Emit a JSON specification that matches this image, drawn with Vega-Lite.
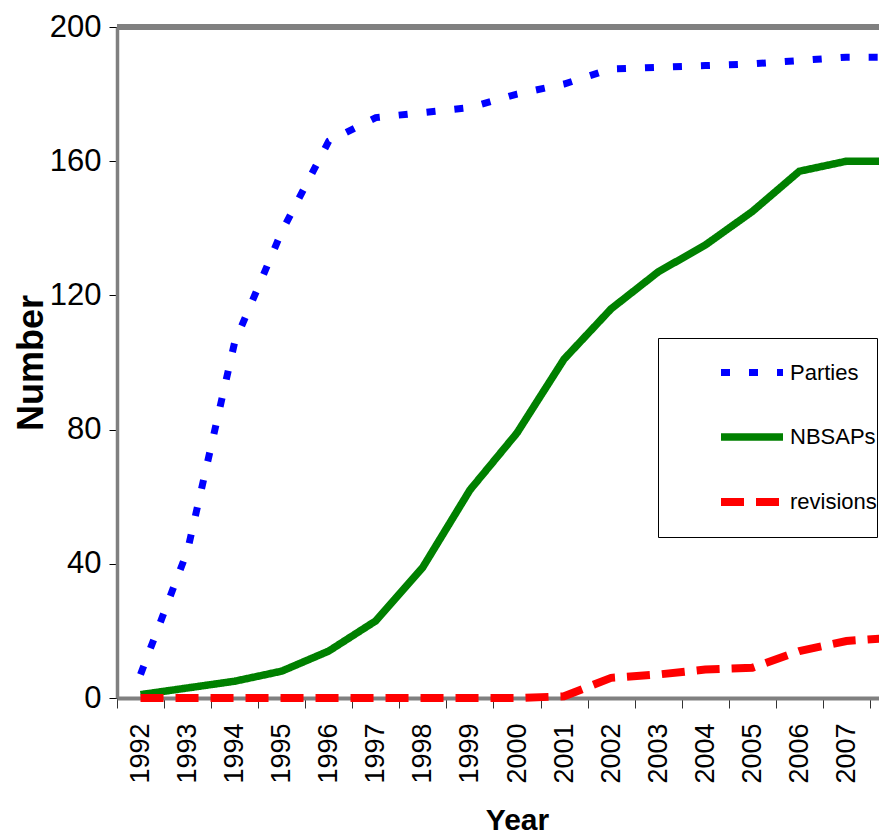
{
  "$schema": "https://vega.github.io/schema/vega-lite/v6.json",
  "autosize": "none",
  "padding": {"left": 117, "top": 27, "right": 0, "bottom": 142},
  "width": 800,
  "height": 671,
  "config": {
    "view": {"stroke": null},
    "font": "Liberation Sans"
  },
  "layer": [
    {
      "data": {"values": [{"top": 200}]},
      "mark": {"type": "rule", "color": "#808080", "strokeWidth": 6},
      "encoding": {"y": {"field": "top", "type": "quantitative", "scale": {"domain": [0, 200], "nice": false}}}
    },
    {
      "data": {
        "values": [
          {"year": "1992", "series": "Parties", "value": 7},
          {"year": "1993", "series": "Parties", "value": 44},
          {"year": "1994", "series": "Parties", "value": 106},
          {"year": "1995", "series": "Parties", "value": 139},
          {"year": "1996", "series": "Parties", "value": 166},
          {"year": "1997", "series": "Parties", "value": 173},
          {"year": "1998", "series": "Parties", "value": 174.5},
          {"year": "1999", "series": "Parties", "value": 176},
          {"year": "2000", "series": "Parties", "value": 180},
          {"year": "2001", "series": "Parties", "value": 183},
          {"year": "2002", "series": "Parties", "value": 187.5},
          {"year": "2003", "series": "Parties", "value": 188},
          {"year": "2004", "series": "Parties", "value": 188.5},
          {"year": "2005", "series": "Parties", "value": 189},
          {"year": "2006", "series": "Parties", "value": 190},
          {"year": "2007", "series": "Parties", "value": 191},
          {"year": "2008", "series": "Parties", "value": 191},
          {"year": "1992", "series": "NBSAPs", "value": 1},
          {"year": "1993", "series": "NBSAPs", "value": 3},
          {"year": "1994", "series": "NBSAPs", "value": 5},
          {"year": "1995", "series": "NBSAPs", "value": 8},
          {"year": "1996", "series": "NBSAPs", "value": 14},
          {"year": "1997", "series": "NBSAPs", "value": 23},
          {"year": "1998", "series": "NBSAPs", "value": 39},
          {"year": "1999", "series": "NBSAPs", "value": 62},
          {"year": "2000", "series": "NBSAPs", "value": 79},
          {"year": "2001", "series": "NBSAPs", "value": 101},
          {"year": "2002", "series": "NBSAPs", "value": 116},
          {"year": "2003", "series": "NBSAPs", "value": 127},
          {"year": "2004", "series": "NBSAPs", "value": 135},
          {"year": "2005", "series": "NBSAPs", "value": 145},
          {"year": "2006", "series": "NBSAPs", "value": 157},
          {"year": "2007", "series": "NBSAPs", "value": 160},
          {"year": "2008", "series": "NBSAPs", "value": 160},
          {"year": "1992", "series": "revisions", "value": 0},
          {"year": "1993", "series": "revisions", "value": 0},
          {"year": "1994", "series": "revisions", "value": 0},
          {"year": "1995", "series": "revisions", "value": 0},
          {"year": "1996", "series": "revisions", "value": 0},
          {"year": "1997", "series": "revisions", "value": 0},
          {"year": "1998", "series": "revisions", "value": 0},
          {"year": "1999", "series": "revisions", "value": 0},
          {"year": "2000", "series": "revisions", "value": 0},
          {"year": "2001", "series": "revisions", "value": 0.5},
          {"year": "2002", "series": "revisions", "value": 6},
          {"year": "2003", "series": "revisions", "value": 7},
          {"year": "2004", "series": "revisions", "value": 8.5},
          {"year": "2005", "series": "revisions", "value": 9},
          {"year": "2006", "series": "revisions", "value": 14},
          {"year": "2007", "series": "revisions", "value": 17},
          {"year": "2008", "series": "revisions", "value": 18}
        ]
      },
      "mark": {"type": "line", "strokeCap": "butt", "strokeJoin": "miter"},
      "encoding": {
        "x": {
          "field": "year",
          "type": "ordinal",
          "bandPosition": 0.5,
          "scale": {"type": "band", "paddingInner": 0, "paddingOuter": 0},
          "axis": {
            "title": "Year",
            "titleFont": "Liberation Sans",
            "titleFontSize": 30,
            "titleFontWeight": "bold",
            "titleColor": "#000",
            "titlePadding": 22,
            "titleAnchor": "middle",
            "tickBand": "extent",
            "tickSize": 10,
            "tickColor": "#333",
            "tickWidth": 1,
            "domainColor": "#808080",
            "domainWidth": 4,
            "labelAngle": -90,
            "labelFont": "Liberation Sans",
            "labelFontSize": 27,
            "labelColor": "#000",
            "labelPadding": 15,
            "labelOverlap": false,
            "labelExpr": "datum.value == '2008' ? '' : datum.value"
          }
        },
        "y": {
          "field": "value",
          "type": "quantitative",
          "scale": {"domain": [0, 200], "nice": false},
          "axis": {
            "title": "Number",
            "titleFont": "Liberation Sans",
            "titleFontSize": 36,
            "titleFontWeight": "bold",
            "titleColor": "#000",
            "titlePadding": -1,
            "values": [0, 40, 80, 120, 160, 200],
            "grid": false,
            "tickSize": 8,
            "tickColor": "#000",
            "tickWidth": 1,
            "domainColor": "#808080",
            "domainWidth": 3.5,
            "labelFont": "Liberation Sans",
            "labelFontSize": 31,
            "labelColor": "#000",
            "labelPadding": 8
          }
        },
        "color": {
          "field": "series",
          "type": "nominal",
          "scale": {"domain": ["Parties", "NBSAPs", "revisions"], "range": ["#0000ff", "#008000", "#ff0000"]},
          "legend": {
            "title": " ",
            "titleOrient": "bottom",
            "titleFontSize": 12,
            "titlePadding": 8,
            "orient": "none",
            "legendX": 541,
            "legendY": 311,
            "padding": 0,
            "symbolOffset": 59,
            "symbolType": "stroke",
            "symbolSize": 3844,
            "labelOffset": 3,
            "rowPadding": 15,
            "labelFont": "Liberation Sans",
            "labelFontSize": 22,
            "labelColor": "#000",
            "labelLimit": 400,
            "strokeColor": "#000",
            "fillColor": "#fff",
            "cornerRadius": 0
          }
        },
        "strokeDash": {
          "field": "series",
          "type": "nominal",
          "scale": {"domain": ["Parties", "NBSAPs", "revisions"], "range": [[9, 19], [1, 0], [23, 12]]},
          "legend": {"title": " "}
        },
        "strokeWidth": {
          "field": "series",
          "type": "nominal",
          "scale": {"domain": ["Parties", "NBSAPs", "revisions"], "range": [7, 8, 5.5]},
          "legend": {"title": " "}
        }
      }
    }
  ]
}
